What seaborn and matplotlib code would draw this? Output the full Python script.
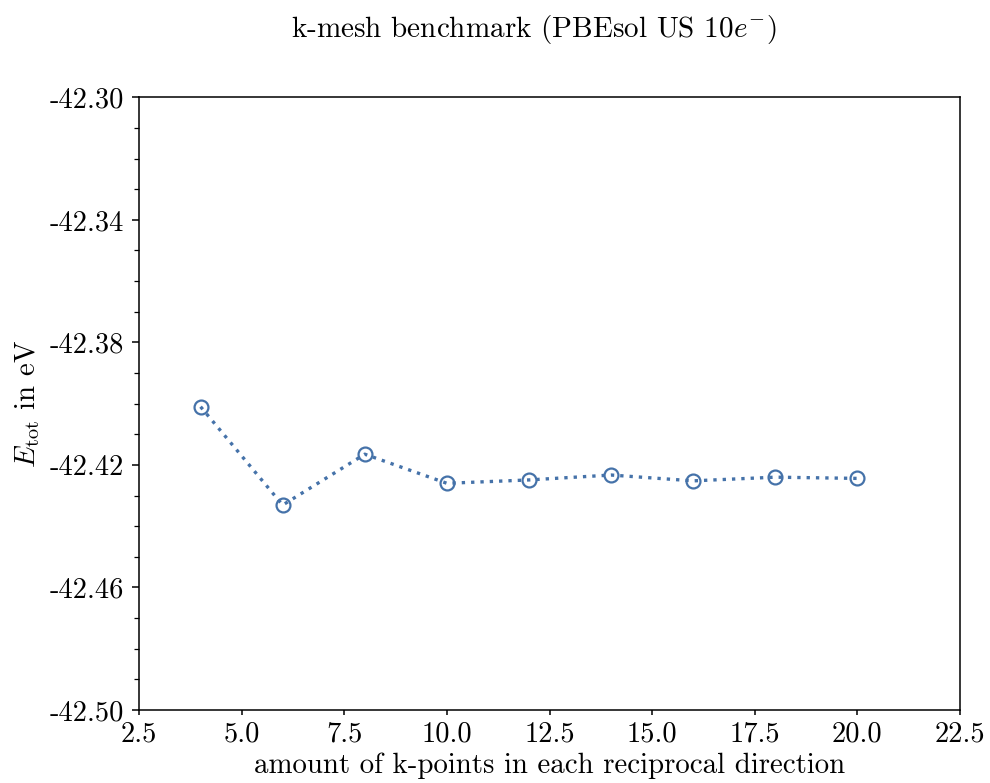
import numpy as np
import pandas as pd
import matplotlib
matplotlib.use("Agg")
import matplotlib.pyplot as plt
import seaborn as sns
from matplotlib.ticker import MultipleLocator, FixedLocator, FuncFormatter

kpoints = [4, 6, 8, 10, 12, 14, 16, 18, 20]
energy = [-42.4010, -42.4331, -42.4165, -42.4260, -42.4249, -42.4233, -42.4252, -42.4240, -42.4244]
yticks = [-42.50, -42.46, -42.42, -42.38, -42.34, -42.30]
xticks = [2.5, 5.0, 7.5, 10.0, 12.5, 15.0, 17.5, 20.0, 22.5]

df = pd.DataFrame({"k": kpoints, "E": energy})

sns.set_theme(style="ticks")
plt.rcParams["font.family"] = ["cmr10", "DejaVu Serif"]
plt.rcParams["mathtext.fontset"] = "cm"
plt.rcParams["axes.formatter.use_mathtext"] = True
plt.rcParams["axes.unicode_minus"] = False
plt.rcParams["text.color"] = "black"
plt.rcParams["axes.labelcolor"] = "black"
plt.rcParams["xtick.color"] = "black"
plt.rcParams["ytick.color"] = "black"

fig = plt.figure(figsize=(9.9, 7.83), dpi=100)
ax = fig.add_axes([139/990, 1 - 710/783, (960-139)/990, (710-97.3)/783])

color = "#4572a9"
sns.lineplot(data=df, x="k", y="E", ax=ax, color=color, linewidth=2.4,
             marker="o", markersize=10, markerfacecolor="none", markeredgecolor=color,
             markeredgewidth=1.6)
ax.lines[0].set_dashes((1, 1.8))

ax.set_xlim(2.5, 22.5)
ax.set_ylim(-42.50, -42.30)
ax.xaxis.set_major_locator(FixedLocator(xticks))
ax.yaxis.set_major_locator(FixedLocator(yticks))
ax.yaxis.set_minor_locator(MultipleLocator(0.01))
ax.xaxis.set_major_formatter(FuncFormatter(lambda v, p: f"{v:.1f}"))
ax.yaxis.set_major_formatter(FuncFormatter(lambda v, p: f"{v:.2f}"))

for s in ax.spines.values():
    s.set_linewidth(1.1)
    s.set_color("black")
ax.tick_params(axis="y", which="major", labelsize=20.5, length=5, width=1.1, pad=6)
ax.tick_params(axis="y", which="minor", length=3.5, width=0.9)
ax.tick_params(axis="x", which="major", labelsize=20.5, length=3.6, width=1.1, pad=4.5)

ax.set_xlabel("amount of k-points in each reciprocal direction", fontsize=20.8, labelpad=3.5)
ax.set_ylabel(r"$E_\mathrm{tot}$ in eV", fontsize=20.8, labelpad=5)

fig.text(534/990, 1 - 30/783, r"k-mesh benchmark (PBEsol US $10e^{-}$)", fontsize=21,
         ha="center", va="center")

fig.savefig("out.png", dpi=100)
